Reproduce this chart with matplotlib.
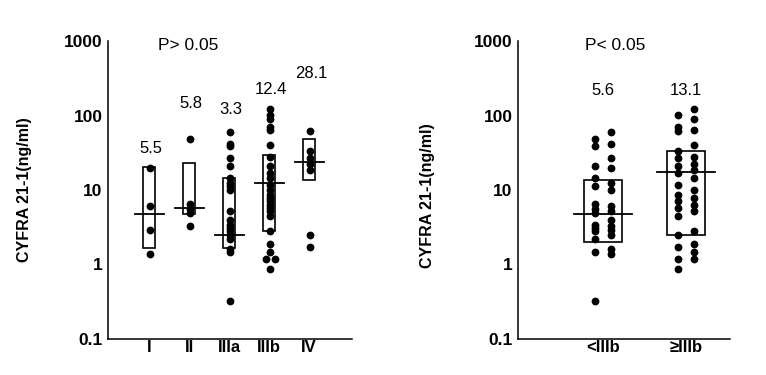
import numpy as np
import matplotlib.pyplot as plt

plt.rcParams['font.family'] = ['Liberation Sans', 'DejaVu Sans']

# CYFRA 21-1 values (ng/ml) per stage
stages = ["I", "II", "IIIa", "IIIb", "IV"]
stage_I = [20, 6.1, 2.9, 1.4]
stage_II = [49, 6.4, 5.5, 4.9, 3.3]
stage_IIIa = [60, 42, 39, 27, 21, 14.5, 12.4, 11.3, 10, 5.2, 3.9, 3.4, 3.1,
              2.8, 2.5, 2.2, 1.6, 1.45, 0.32]
stage_IIIb = [124, 101, 91, 71, 63, 40, 28, 21, 17, 14.5, 11.7, 10, 8.7, 7.8,
              7.1, 6.3, 5.8, 5.2, 4.5, 2.8, 1.9, 1.45, 1.18, 1.18, 0.87]
stage_IV = [62, 33, 27, 22, 18.7, 2.5, 1.7]

stage_box_low = [1.69, 4.7, 1.69, 2.8, 13.7]
stage_box_high = [20.5, 23, 14.5, 29.5, 49]
stage_median = [4.8, 5.75, 2.5, 12.4, 23.4]
stage_labels = ["5.5", "5.8", "3.3", "12.4", "28.1"]

# grouped: < IIIb and >= IIIb
grouped = ["<IIIb", "\u2265IIIb"]
below_IIIb = stage_I + stage_II + stage_IIIa
from_IIIb = stage_IIIb + stage_IV
grouped_box_low = [2.0, 2.5]
grouped_box_high = [13.7, 33]
grouped_median = [4.7, 17.2]
grouped_labels = ["5.6", "13.1"]


def style_axis(ax, names, xlim):
    ax.set_yscale("log")
    ax.set_ylim(0.1, 1000)
    ax.set_xlim(*xlim)
    ax.set_yticks([0.1, 1, 10, 100, 1000])
    ax.set_yticklabels(["0.1", "1", "10", "100", "1000"])
    ax.minorticks_off()
    ax.set_xticks(range(1, len(names) + 1))
    ax.set_xticklabels(names)
    for s in ["top", "right"]:
        ax.spines[s].set_visible(False)
    for s in ["left", "bottom"]:
        ax.spines[s].set_linewidth(1.1)
    ax.tick_params(axis="y", length=0, pad=4, labelsize=12.5)
    ax.tick_params(axis="x", length=0, pad=1, labelsize=12)
    for lab in ax.get_xticklabels() + ax.get_yticklabels():
        lab.set_fontweight("bold")
    ax.set_ylabel("CYFRA 21-1(ng/ml)", fontsize=11.5, fontweight="bold")


def draw_groups(ax, data, low, high, med, box_w, line_w, offsets):
    for i, vals in enumerate(data):
        x = i + 1
        ax.add_patch(plt.Rectangle((x - box_w / 2, low[i]), box_w,
                                   high[i] - low[i], fill=False,
                                   edgecolor="black", lw=1.2, zorder=2))
        ax.plot([x - line_w / 2, x + line_w / 2], [med[i], med[i]],
                color="black", lw=1.3, zorder=3)
        xs = offsets(np.array(vals, dtype=float)) + x
        ax.plot(xs, vals, "o", color="black", ms=4.6, zorder=4)


def single_column(vals):
    # one column, repeated values pushed apart
    off = np.zeros(len(vals))
    for j in range(1, len(vals)):
        if vals[j] == vals[j - 1]:
            off[j - 1] = -0.12
            off[j] = 0.12
    return off + 0.03


def two_columns(vals):
    order = np.argsort(vals)
    off = np.zeros(len(vals))
    off[order[0::2]] = -0.1
    off[order[1::2]] = 0.1
    return off


fig = plt.figure(figsize=(7.66, 3.75), dpi=100)

ax1 = fig.add_axes([108 / 766, 1 - 339 / 375, 244 / 766, 298 / 375])
draw_groups(ax1, [stage_I, stage_II, stage_IIIa, stage_IIIb, stage_IV],
            stage_box_low, stage_box_high, stage_median, 0.3, 0.72,
            single_column)
style_axis(ax1, stages, (-0.03, 6.07))
ax1.yaxis.set_label_coords(-0.31, 0.5)
label_y1 = [36, 147, 120, 222, 371]
for i, t in enumerate(stage_labels):
    ax1.text(i + 1 + 0.05, label_y1[i], t, ha="center", va="center",
             fontsize=12)
ax1.text(0.33, 0.985, "P> 0.05", transform=ax1.transAxes, ha="center",
         va="center", fontsize=12.5)

ax2 = fig.add_axes([518 / 766, 1 - 339 / 375, 212 / 766, 298 / 375])
draw_groups(ax2, [below_IIIb, from_IIIb], grouped_box_low, grouped_box_high,
            grouped_median, 0.45, 0.7, two_columns)
style_axis(ax2, grouped, (-0.024, 2.53))
ax2.yaxis.set_label_coords(-0.39, 0.48)
for i, t in enumerate(grouped_labels):
    ax2.text(i + 1, 219, t, ha="center", va="center", fontsize=12)
ax2.text(0.46, 0.985, "P< 0.05", transform=ax2.transAxes, ha="center",
         va="center", fontsize=12.5)

fig.savefig("out.png", dpi=100, facecolor="white")
